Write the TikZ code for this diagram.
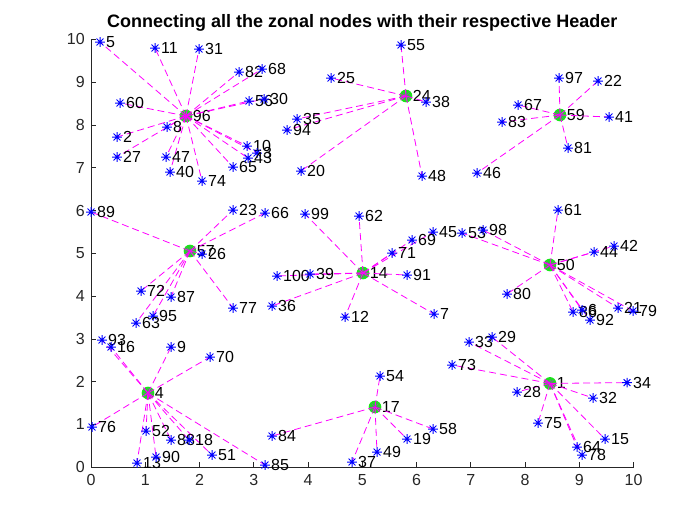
\documentclass[tikz,border=0pt]{standalone}
\usepackage{fontspec}
\setmainfont{Liberation Sans}
\pgfdeclarelayer{back}
\pgfdeclarelayer{lines}
\pgfsetlayers{back,lines,main}
\definecolor{mblue}{rgb}{0,0,1}
\definecolor{mmag}{rgb}{1,0,1}
\definecolor{mgreen}{rgb}{0.1,0.9,0.1}
\definecolor{axc}{rgb}{0.15,0.15,0.15}
\definecolor{hstar}{rgb}{0.45,0.45,0.55}
\tikzset{
  asterisk/.style={path picture={\draw[#1,line width=0.75pt] (path picture bounding box.center) +(-4.8,0) -- +(4.8,0) +(0,-4.8) -- +(0,4.8) +(-3.4,-3.4) -- +(3.4,3.4) +(-3.4,3.4) -- +(3.4,-3.4);}},
  lbl/.style={font=\fontsize{12}{12}\selectfont,inner sep=0pt,text=black},
  pt/.style={circle,inner sep=0pt,minimum size=8.5pt,asterisk=mblue,label distance=-0.9pt},
  hd/.style={circle,inner sep=0pt,minimum size=9.5pt,fill=mgreen,asterisk=hstar,label distance=-1.3pt},
  conn/.style={draw=mmag,line width=0.6pt,dash pattern=on 5.25pt off 3pt},
  axisline/.style={draw=axc,line width=0.5pt},
  ticklbl/.style={font=\fontsize{12}{12}\selectfont,inner sep=0pt,text=axc},
  titlelbl/.style={font=\fontsize{13.5}{13.5}\selectfont\bfseries,inner sep=0pt,text=black}
}
\newcommand\pn[3]{\node[pt,label={[lbl]right:#1}] (n#1) at (#2,#3) {};}
\newcommand\hn[3]{\node[hd,label={[lbl]right:#1}] (n#1) at (#2,#3) {};}
\begin{document}
\begin{tikzpicture}[x=0.75pt,y=-0.75pt]
\useasboundingbox (0,0) rectangle (700,525);
% title
\node[titlelbl,anchor=base] (title) at (362.25,27.5) {Connecting all the zonal nodes with their respective Header};
% axes
\draw[axisline] (91,39.4) -- (91,467.25) -- (633.5,467.25);
\foreach \k in {0,...,10}{
  \pgfmathsetmacro\xx{91+54.25*\k}
  \pgfmathsetmacro\yy{467.25-42.785*\k}
  \draw[axisline] (\xx,467.25) -- (\xx,461.85);
  \draw[axisline] (91,\yy) -- (96.4,\yy);
  \node[ticklbl,anchor=north] (xt\k) at (\xx,474) {\k};
  \node[ticklbl,anchor=east] (yt\k) at (85,\yy) {\k};
}
% headers
\begin{pgfonlayer}{back}
\hn{96}{186}{116}
\hn{24}{406}{96}
\hn{59}{560}{115}
\hn{57}{190}{251}
\hn{14}{363}{273}
\hn{50}{550}{265}
\hn{1}{550}{383.4}
\hn{4}{148}{393}
\hn{17}{375}{407}
\end{pgfonlayer}
% members of 96
\pn{5}{100}{42}
\pn{11}{155}{48}
\pn{31}{199}{49}
\pn{82}{239}{72}
\pn{68}{262}{69}
\pn{60}{120}{103}
\pn{56}{249}{101}
\pn{30}{264}{99}
\pn{8}{167}{127}
\pn{2}{117}{137}
\pn{27}{117}{157}
\pn{47}{166}{157}
\pn{40}{170}{172}
\pn{74}{202}{181}
\pn{65}{233}{167}
\pn{10}{247}{146}
\pn{3}{257}{153}
\pn{43}{248}{158}
% members of 24
\pn{55}{401}{45}
\pn{25}{331}{78}
\pn{38}{426}{102}
\pn{35}{297}{119}
\pn{94}{287}{130}
\pn{20}{301}{171}
\pn{48}{422}{176}
% members of 59
\pn{97}{559}{78}
\pn{22}{598}{81}
\pn{67}{518}{105}
\pn{83}{502}{122}
\pn{41}{609}{117}
\pn{81}{568}{148}
\pn{46}{477}{173}
% members of 57
\pn{89}{91}{212}
\pn{23}{233}{210}
\pn{66}{265}{213}
\pn{26}{202}{254}
\pn{72}{141}{291}
\pn{87}{171}{297}
\pn{95}{153}{316}
\pn{63}{136}{323}
\pn{77}{233}{308}
% members of 14
\pn{99}{305}{214}
\pn{62}{359}{216}
\pn{45}{433}{232}
\pn{69}{412}{240}
\pn{71}{392}{253}
\pn{100}{277}{276}
\pn{39}{310}{274}
\pn{91}{407}{275}
\pn{36}{272}{306}
\pn{12}{345}{317}
\pn{7}{434}{314}
% members of 50
\pn{61}{558}{210}
\pn{53}{462}{233}
\pn{98}{483}{230}
\pn{44}{594}{252}
\pn{42}{614}{246}
\pn{80}{507}{294}
\pn{86}{573}{312}
\pn{6}{582}{310}
\pn{92}{590}{320}
\pn{21}{618}{308}
\pn{79}{633}{311}
% members of 1
\pn{33}{469}{342}
\pn{29}{492}{337}
\pn{73}{452}{365}
\pn{34}{627}{382.6}
\pn{28}{517}{392}
\pn{32}{593}{398}
\pn{75}{538}{423}
\pn{15}{605}{439}
\pn{64}{577}{447}
\pn{78}{582}{455}
% members of 4
\pn{93}{102}{340}
\pn{16}{111}{347}
\pn{9}{171}{347}
\pn{70}{210}{357}
\pn{76}{92}{427}
\pn{52}{146}{431}
\pn{88}{171}{440}
\pn{18}{189}{440}
\pn{13}{137}{463}
\pn{90}{156}{457}
\pn{51}{212}{455}
\pn{85}{265}{465}
% members of 17
\pn{54}{380}{376}
\pn{84}{272}{436}
\pn{58}{433}{429}
\pn{19}{407}{439}
\pn{49}{377}{452}
\pn{37}{352}{462}
% connectors
\begin{pgfonlayer}{lines}
\foreach \m in {5,11,31,82,68,60,56,30,8,2,27,47,40,74,65,10,3,43}
  \draw[conn] (n96.center) -- (n\m.center);
\foreach \m in {55,25,38,35,94,20,48}
  \draw[conn] (n24.center) -- (n\m.center);
\foreach \m in {97,22,67,83,41,81,46}
  \draw[conn] (n59.center) -- (n\m.center);
\foreach \m in {89,23,66,26,72,87,95,63,77}
  \draw[conn] (n57.center) -- (n\m.center);
\foreach \m in {99,62,45,69,71,100,39,91,36,12,7}
  \draw[conn] (n14.center) -- (n\m.center);
\foreach \m in {61,53,98,44,42,80,86,6,92,21,79}
  \draw[conn] (n50.center) -- (n\m.center);
\foreach \m in {33,29,73,34,28,32,75,15,64,78}
  \draw[conn] (n1.center) -- (n\m.center);
\foreach \m in {93,16,9,70,76,52,88,18,13,90,51,85}
  \draw[conn] (n4.center) -- (n\m.center);
\foreach \m in {54,84,58,19,49,37}
  \draw[conn] (n17.center) -- (n\m.center);
\end{pgfonlayer}
\end{tikzpicture}
\end{document}
